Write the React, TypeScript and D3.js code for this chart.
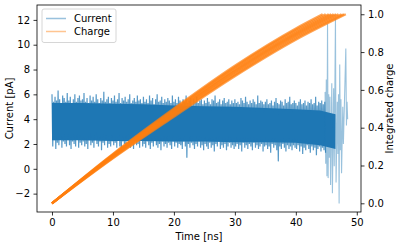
import { useRef, useEffect } from "react";
import * as d3 from "d3";

const W = 399;
const H = 245;
const FRAME = { left: 37, right: 361, top: 5, bottom: 212 };
const FONT = "DejaVu Sans, sans-serif";
const BLUE = "#1f77b4";
const ORANGE = "#ff7f0e";

// Current noise, per 0.25 ns bin: peak and trough (pA)
const currentHigh = [
  6.0, 5.4, 5.8, 5.5, 6.3, 5.6, 5.3, 5.9, 5.7, 5.4, 6.1, 5.5, 5.8, 5.3, 5.6, 6.0, 5.4, 5.7, 5.9, 5.5,
  5.6, 6.1, 5.4, 5.7, 5.3, 5.9, 5.5, 5.8, 5.4, 6.0, 5.6, 5.3, 5.7, 5.5, 6.2, 5.4, 5.6, 5.8, 5.3, 5.7,
  5.5, 5.9, 5.4, 5.6, 6.1, 5.3, 5.7, 5.5, 5.8, 5.4, 5.6, 6.0, 5.3, 5.5, 5.7, 5.4, 5.9, 5.5, 5.6, 5.3,
  5.8, 5.4, 5.6, 5.3, 5.9, 5.5, 5.7, 5.2, 5.6, 6.0, 5.4, 5.5, 5.8, 5.3, 5.6, 5.4, 5.7, 5.5, 5.3, 5.9,
  5.4, 5.6, 5.3, 5.8, 5.5, 5.2, 5.6, 5.4, 5.9, 5.3, 5.5, 5.7, 5.2, 5.6, 5.4, 5.8, 5.3, 5.5, 5.6, 5.2,
  5.5, 5.3, 5.7, 5.4, 5.2, 5.6, 5.5, 5.9, 5.3, 5.4, 5.6, 5.2, 5.5, 5.7, 5.3, 5.4, 5.6, 5.2, 5.5, 5.3,
  5.6, 5.3, 5.4, 5.2, 5.7, 5.5, 5.3, 5.8, 5.4, 5.2, 5.5, 5.3, 5.6, 5.4, 5.2, 5.9, 5.3, 5.5, 5.4, 5.2,
  5.4, 5.6, 5.2, 5.3, 5.5, 5.1, 5.4, 5.7, 5.3, 5.2, 5.5, 5.4, 5.1, 5.6, 5.3, 5.4, 5.8, 5.2, 5.3, 5.5,
  5.3, 5.1, 5.4, 5.6, 5.2, 5.3, 5.5, 5.1, 5.4, 5.3, 5.6, 5.2, 5.3, 5.8, 5.1, 5.4, 5.3, 5.5, 5.2, 5.4,
];
const currentLow = [
  1.8, 2.3, 1.6, 2.1, 1.9, 2.4, 1.7, 2.2, 2.0, 1.8, 2.3, 1.9, 1.6, 2.2, 2.0, 1.8, 2.4, 1.7, 2.1, 1.9,
  2.2, 1.8, 2.0, 1.6, 2.3, 1.9, 2.1, 1.7, 2.4, 2.0, 1.8, 2.2, 1.5, 2.1, 1.9, 2.3, 1.7, 2.0, 1.8, 2.2,
  1.9, 2.1, 1.7, 2.3, 1.8, 1.5, 2.2, 2.0, 1.8, 2.4, 1.9, 1.7, 2.1, 1.6, 2.2, 1.9, 2.0, 1.7, 2.3, 1.8,
  2.0, 1.7, 2.2, 1.9, 1.6, 2.1, 1.8, 2.3, 1.9, 1.7, 2.0, 1.5, 2.2, 1.8, 2.0, 1.7, 2.1, 1.9, 1.6, 2.2,
  1.8, 2.1, 1.7, 2.0, 1.9, 1.6, 2.2, 1.8, 0.9, 2.0, 1.7, 2.1, 1.9, 1.6, 2.0, 1.8, 2.2, 1.7, 1.9, 1.5,
  2.0, 1.8, 1.6, 2.1, 1.7, 1.9, 1.4, 2.0, 1.8, 2.2, 1.6, 1.9, 1.7, 2.0, 1.5, 1.8, 2.1, 1.7, 1.9, 1.6,
  1.8, 2.0, 1.6, 1.9, 1.4, 2.1, 1.7, 1.9, 1.6, 2.0, 1.8, 1.5, 2.1, 1.7, 1.9, 1.6, 1.8, 2.0, 1.4, 1.8,
  1.9, 1.6, 1.8, 1.3, 2.0, 1.7, 1.9, 1.5, 0.6, 1.8, 1.6, 2.0, 1.7, 1.4, 1.9, 1.6, 1.8, 1.5, 1.9, 1.7,
  1.6, 1.9, 1.4, 1.8, 1.2, 1.7, 1.5, 1.9, 1.6, 1.3, 1.8, 1.5, 1.7, 1.1, 1.6, 1.8, 1.4, 1.7, 1.5, 1.3,
];

// Dense core of the current trace
const coreTimes = [0, 5, 10, 15, 20, 25, 30, 35, 40, 44, 46.5];
const coreTop = [5.3, 5.3, 5.25, 5.2, 5.1, 5.05, 5.0, 4.9, 4.8, 4.7, 4.4];
const coreBottom = [2.3, 2.3, 2.25, 2.25, 2.2, 2.2, 2.15, 2.15, 2.1, 1.9, 1.6];

// Large spikes at the end of the trace
const spikeTimes = [44.8, 45.0, 45.2, 45.4, 45.6, 45.9, 46.2, 46.5, 46.8, 47.0, 47.2, 47.4, 47.7, 48.2, 48.4];
const spikeHigh = [6.2, 7.2, 11.7, 6.0, 5.8, 6.9, 6.5, 12.1, 5.4, 6.0, 8.4, 5.6, 5.0, 9.7, 5.4];
const spikeLow = [0.4, -0.6, -0.75, 0.9, -1.3, -1.96, 0.2, -1.1, 1.2, -2.8, 1.5, -0.35, 2.0, 3.5, 4.0];

// Integrated charge traces: value at 10/20/30/40 ns, reaching 1.0 at the end time
const chargeKnotTimes = [10, 20, 30, 40];
const chargeEnd = [44.4, 44.9, 45.4, 45.8, 46.2, 46.6, 47.0, 47.5, 47.9, 48.2];
const chargeAt10 = [0.262, 0.259, 0.256, 0.253, 0.251, 0.249, 0.247, 0.244, 0.241, 0.238];
const chargeAt20 = [0.502, 0.497, 0.492, 0.487, 0.482, 0.478, 0.473, 0.468, 0.463, 0.458];
const chargeAt30 = [0.728, 0.722, 0.716, 0.709, 0.703, 0.697, 0.691, 0.684, 0.678, 0.672];
const chargeAt40 = [0.925, 0.918, 0.911, 0.904, 0.898, 0.892, 0.886, 0.879, 0.872, 0.865];

const xTicks = [0, 10, 20, 30, 40, 50];
const yLeftTicks = [-2, 0, 2, 4, 6, 8, 10, 12];
const yRightTicks = [0, 0.2, 0.4, 0.6, 0.8, 1.0];

export default function App() {
  const svgRef = useRef<SVGSVGElement>(null);

  useEffect(() => {
    if (!svgRef.current) return;
    const svg = d3.select(svgRef.current);
    svg.selectAll("*").remove();

    const x = d3.scaleLinear().domain([-2.46, 50.69]).range([FRAME.left, FRAME.right]);
    const yL = d3.scaleLinear().domain([-3.48, 13.2]).range([FRAME.bottom, FRAME.top]);
    const yR = d3.scaleLinear().domain([-0.046, 1.049]).range([FRAME.bottom, FRAME.top]);

    const plot = svg.append("g");

    // ── current: dense core + zigzag noise + end spikes ──
    const core = d3
      .area<number>()
      .x((_, i) => x(coreTimes[i]))
      .y0((_, i) => yL(coreBottom[i]))
      .y1((d) => yL(d));
    plot.append("path").attr("d", core(coreTop)).attr("fill", BLUE);

    const binTimes = d3.range(0, currentHigh.length * 0.25, 0.25);
    const zig: [number, number][] = [];
    binTimes.forEach((t, i) => {
      zig.push([t, currentHigh[i]]);
      zig.push([t + 0.125, currentLow[i]]);
    });
    const line = d3
      .line<[number, number]>()
      .x((d) => x(d[0]))
      .y((d) => yL(d[1]));
    plot
      .append("path")
      .attr("d", line(zig))
      .attr("fill", "none")
      .attr("stroke", BLUE)
      .attr("stroke-width", 1.2)
      .attr("opacity", 0.75);

    const spikes: [number, number][] = [];
    spikeTimes.forEach((t, i) => {
      spikes.push([t, spikeHigh[i]]);
      spikes.push([t + 0.1, spikeLow[i]]);
    });
    plot
      .append("path")
      .attr("d", line(spikes))
      .attr("fill", "none")
      .attr("stroke", BLUE)
      .attr("stroke-width", 1.1)
      .attr("opacity", 0.45);

    // ── integrated charge traces ──
    const chargeLine = d3
      .line<[number, number]>()
      .x((d) => x(d[0]))
      .y((d) => yR(d[1]))
      .curve(d3.curveMonotoneX);
    chargeEnd.forEach((end, i) => {
      const vals = [chargeAt10[i], chargeAt20[i], chargeAt30[i], chargeAt40[i]];
      const pts: [number, number][] = [[0, 0]];
      chargeKnotTimes.forEach((t, k) => pts.push([t, vals[k]]));
      pts.push([end, 1]);
      plot
        .append("path")
        .attr("d", chargeLine(pts))
        .attr("fill", "none")
        .attr("stroke", ORANGE)
        .attr("stroke-width", 2.2)
        .attr("opacity", 0.7);
    });

    // ── frame ──
    svg
      .append("rect")
      .attr("x", FRAME.left)
      .attr("y", FRAME.top)
      .attr("width", FRAME.right - FRAME.left)
      .attr("height", FRAME.bottom - FRAME.top)
      .attr("fill", "none")
      .attr("stroke", "#000")
      .attr("stroke-width", 0.8);

    const txt = (g: d3.Selection<SVGGElement, unknown, null, undefined>) =>
      g.selectAll("text").attr("font-family", FONT).attr("font-size", "10px").attr("fill", "#000");

    const fmt = (v: number, f: string) => d3.format(f)(v);

    const xAxisG = svg
      .append("g")
      .attr("transform", `translate(0,${FRAME.bottom})`)
      .call(
        d3.axisBottom(x).tickValues(xTicks).tickSize(3.5).tickPadding(3.5).tickFormat((d) => fmt(+d, "d"))
      );
    xAxisG.select(".domain").remove();
    txt(xAxisG);

    const yLG = svg
      .append("g")
      .attr("transform", `translate(${FRAME.left},0)`)
      .call(
        d3.axisLeft(yL).tickValues(yLeftTicks).tickSize(3.5).tickPadding(3.5).tickFormat((d) => fmt(+d, "d"))
      );
    yLG.select(".domain").remove();
    txt(yLG);

    const yRG = svg
      .append("g")
      .attr("transform", `translate(${FRAME.right},0)`)
      .call(
        d3.axisRight(yR).tickValues(yRightTicks).tickSize(3.5).tickPadding(3.5).tickFormat((d) => fmt(+d, ".1f"))
      );
    yRG.select(".domain").remove();
    txt(yRG);

    svg.selectAll(".tick line").attr("stroke", "#000").attr("stroke-width", 0.8);

    // ── axis labels ──
    svg
      .append("text")
      .attr("x", (FRAME.left + FRAME.right) / 2)
      .attr("y", 240)
      .attr("text-anchor", "middle")
      .attr("font-family", FONT)
      .attr("font-size", "10px")
      .text("Time [ns]");
    svg
      .append("text")
      .attr("transform", `translate(13,${(FRAME.top + FRAME.bottom) / 2}) rotate(-90)`)
      .attr("text-anchor", "middle")
      .attr("font-family", FONT)
      .attr("font-size", "10px")
      .text("Current [pA]");
    svg
      .append("text")
      .attr("transform", `translate(393,${(FRAME.top + FRAME.bottom) / 2}) rotate(-90)`)
      .attr("text-anchor", "middle")
      .attr("font-family", FONT)
      .attr("font-size", "10px")
      .text("Integrated charge");

    // ── legend ──
    const lg = svg.append("g");
    lg.append("rect")
      .attr("x", 42)
      .attr("y", 9)
      .attr("width", 74)
      .attr("height", 33.5)
      .attr("rx", 2)
      .attr("fill", "#fff")
      .attr("fill-opacity", 0.8)
      .attr("stroke", "#cccccc")
      .attr("stroke-width", 0.8);
    [
      { label: "Current", color: BLUE },
      { label: "Charge", color: ORANGE },
    ].forEach((item, i) => {
      const yy = 18.5 + i * 13;
      lg.append("line")
        .attr("x1", 46)
        .attr("x2", 66)
        .attr("y1", yy)
        .attr("y2", yy)
        .attr("stroke", item.color)
        .attr("stroke-width", 1.5)
        .attr("opacity", 0.45);
      lg.append("text")
        .attr("x", 74)
        .attr("y", yy + 3.6)
        .attr("font-family", FONT)
        .attr("font-size", "10px")
        .text(item.label);
    });
  }, []);

  return (
    <svg
      ref={svgRef}
      width={W}
      height={H}
      style={{ position: "absolute", left: 0, top: 0, background: "#fff" }}
    />
  );
}
